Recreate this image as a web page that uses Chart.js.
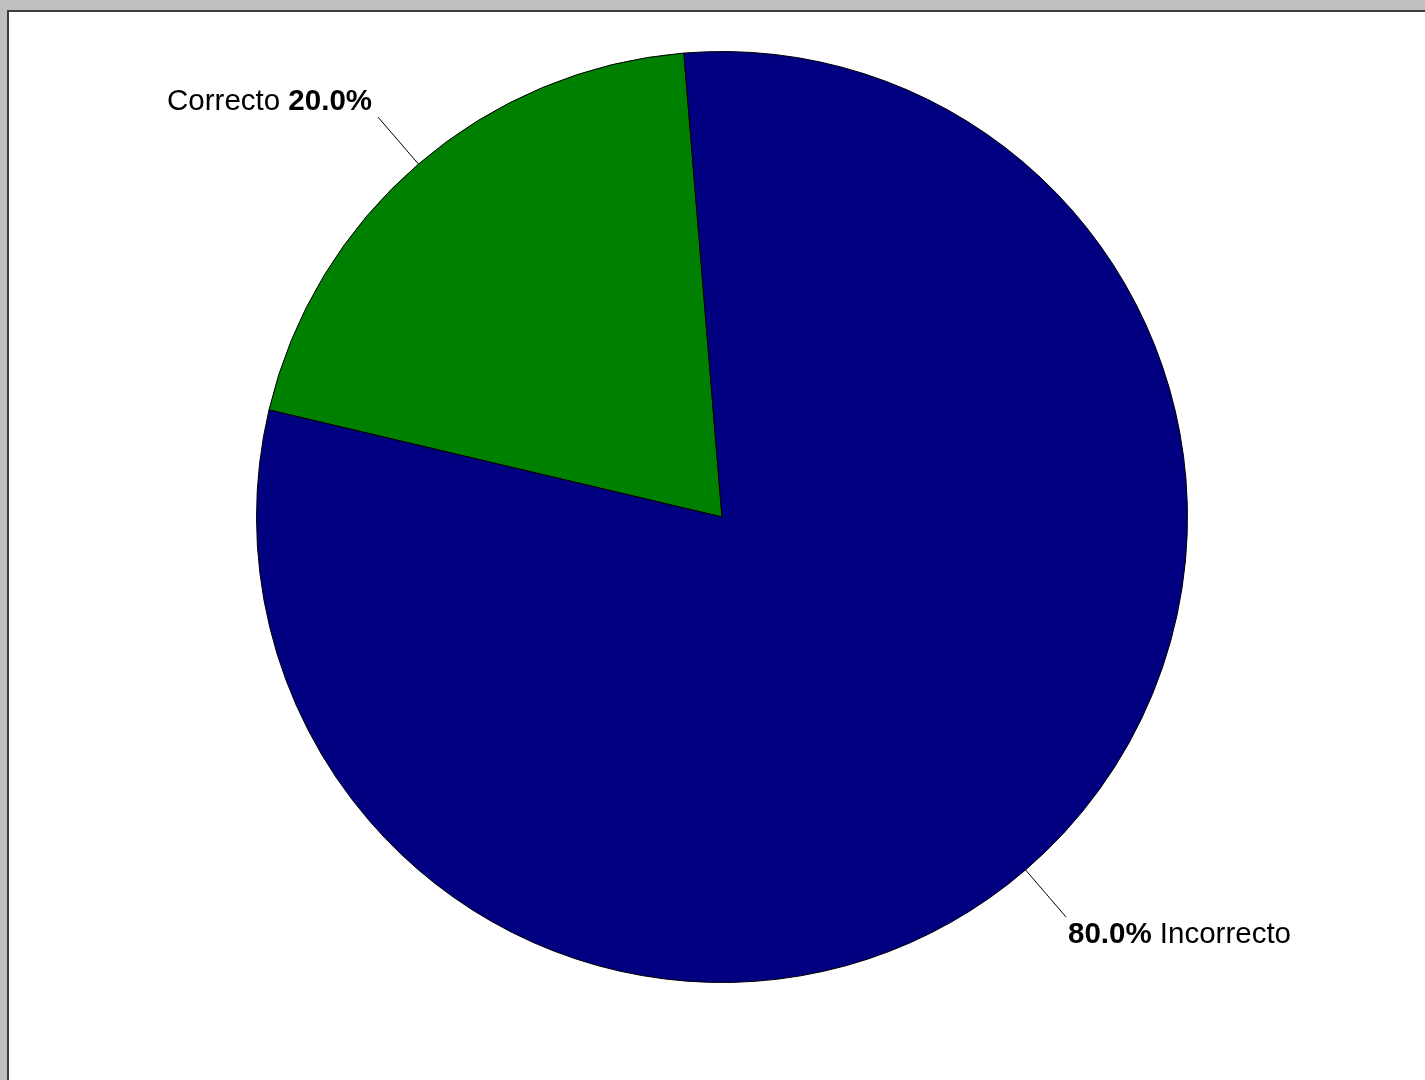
<!DOCTYPE html>
<html lang="es">
<head>
  <meta charset="UTF-8" />
  <title>Correcto / Incorrecto</title>
  <script src="https://cdn.jsdelivr.net/npm/chart.js"></script>
  <style>
    html, body { margin: 0; padding: 0; background: #fff; overflow: hidden; }
    #frame {
      position: absolute; left: 0; top: 0; width: 1440px; height: 1100px;
      border-top: 10px solid #c0c0c0; border-left: 7px solid #c0c0c0;
    }
    #inner {
      width: 100%; height: 100%;
      border-top: 2px solid #3c3c3c; border-left: 2px solid #3c3c3c;
    }
    #wrap { position: absolute; left: 0; top: 0; width: 1425px; height: 1080px; }
  </style>
</head>
<body>
  <div id="frame"><div id="inner"></div></div>
  <div id="wrap"><canvas id="pie"></canvas></div>

  <script>
    const labels = ['Correcto', 'Incorrecto'];
    const values = [20, 80];
    const colors = ['#008000', '#000080'];

    const total = values.reduce((a, b) => a + b, 0);
    const font = '"Liberation Sans", Arial, sans-serif';

    // leader lines + labels, "name pct" on the left, "pct name" on the right
    const pieLabels = {
      id: 'pieLabels',
      afterDraw(chart) {
        const ctx = chart.ctx;
        const arcs = chart.getDatasetMeta(0).data;
        arcs.forEach((arc, i) => {
          const p = arc.getProps(['x', 'y', 'startAngle', 'endAngle', 'outerRadius'], true);
          const mid = (p.startAngle + p.endAngle) / 2;
          const cos = Math.cos(mid), sin = Math.sin(mid);
          const sx = p.x + cos * p.outerRadius, sy = p.y + sin * p.outerRadius;
          const ex = p.x + cos * (p.outerRadius + 62), ey = p.y + sin * (p.outerRadius + 62);

          ctx.save();
          ctx.strokeStyle = '#000';
          ctx.lineWidth = 1;
          ctx.beginPath();
          ctx.moveTo(sx, sy);
          ctx.lineTo(ex, ey);
          ctx.stroke();

          const pct = (values[i] / total * 100).toFixed(1) + '%';
          const normal = '29.5px ' + font, bold = 'bold 29.5px ' + font;
          ctx.fillStyle = '#000';
          ctx.textBaseline = 'alphabetic';
          ctx.textAlign = 'left';
          if (ex < p.x) {
            ctx.font = normal;
            const a = labels[i] + ' ';
            const wa = ctx.measureText(a).width;
            ctx.font = bold;
            const wb = ctx.measureText(pct).width;
            const x0 = ex - 6 - wa - wb, by = ey - 7;
            ctx.font = normal; ctx.fillText(a, x0, by);
            ctx.font = bold; ctx.fillText(pct, x0 + wa, by);
          } else {
            ctx.font = bold;
            const a = pct + ' ';
            const wa = ctx.measureText(a).width;
            const x0 = ex + 2, by = ey + 26;
            ctx.fillText(a, x0, by);
            ctx.font = normal; ctx.fillText(labels[i], x0 + wa, by);
          }
          ctx.restore();
        });
      }
    };

    new Chart(document.getElementById('pie'), {
      type: 'pie',
      data: {
        labels: labels,
        datasets: [{
          data: values,
          backgroundColor: colors,
          borderColor: '#000',
          borderWidth: 1
        }]
      },
      options: {
        responsive: true,
        maintainAspectRatio: false,
        animation: false,
        rotation: -76.7,
        layout: { padding: { left: 256, right: 237, top: 51, bottom: 97 } },
        plugins: { legend: { display: false }, tooltip: { enabled: false } }
      },
      plugins: [pieLabels]
    });
  </script>
</body>
</html>
